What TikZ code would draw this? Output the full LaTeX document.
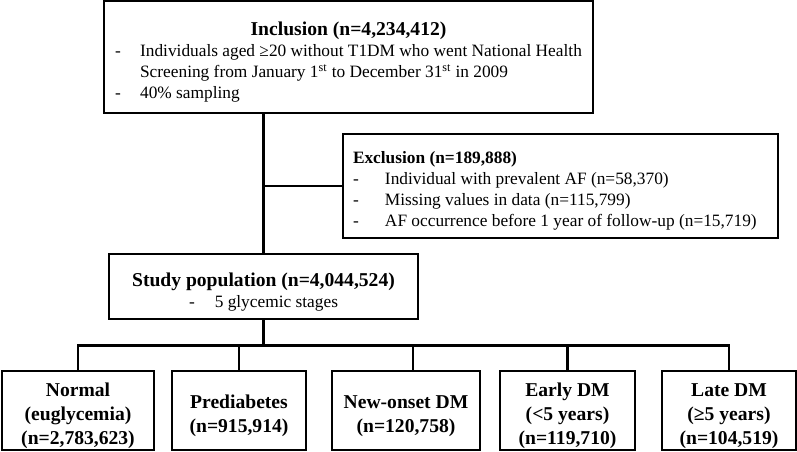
\documentclass[tikz,border=0pt]{standalone}
\usepackage{fontspec}
\setmainfont{Liberation Serif}
\usepackage{array}
\newcommand{\bigtxt}{\fontsize{14.7}{18}\selectfont\bfseries}
\newcommand{\smalltxt}{\fontsize{13}{15.75}\selectfont}
\newcommand{\topgap}[1]{\rule{0pt}{#1}}

\begin{document}
\begin{tikzpicture}[x=0.75pt, y=-0.75pt,
    box/.style={draw, rectangle, line width=1pt, inner sep=0pt, font=\smalltxt},
    stage/.style={box, minimum width=#1, minimum height=59.25pt, align=center, font=\bigtxt},
    link/.style={line width=2.2pt}]
    \useasboundingbox (0,0) rectangle (797,451);
    % Nodes
    \node [box, minimum width=366.75pt, minimum height=84pt] (incl) at (348.5,57) {%
      \begin{tabular}{@{}p{18.75pt}@{}l@{}}
        \multicolumn{2}{@{}c@{}}{\topgap{20pt}\bigtxt Inclusion (n=4,234,412)}\\
        - & Individuals aged ≥20 without T1DM who went National Health\\
          & Screening from January 1\textsuperscript{st} to December 31\textsuperscript{st} in 2009\\
        - & 40\% sampling
      \end{tabular}};
    \node [box, minimum width=326.25pt, minimum height=78pt] (excl) at (560.5,186) {%
      \begin{tabular}{@{}p{24pt}@{}p{287.25pt}@{}}
        \multicolumn{2}{@{}l@{}}{\topgap{18pt}\bfseries Exclusion (n=189,888)}\\
        - & Individual with prevalent AF (n=58,370)\\
        - & Missing values in data (n=115,799)\\
        - & AF occurrence before 1 year of follow-up (n=15,719)
      \end{tabular}};
    \node [box, minimum width=231.75pt, minimum height=48.75pt, align=center] (study) at (263.5,286.5)
      {{\topgap{18pt}\bigtxt Study population (n=4,044,524)}\\ -\hspace{15pt}5 glycemic stages};

    \node [stage=114pt] (b1) at (78,410.5) {\topgap{17.5pt}Normal\\(euglycemia)\\(n=2,783,623)};
    \node [stage=100.5pt] (b2) at (239,410.5) {\topgap{17.5pt}Prediabetes\\(n=915,914)};
    \node [stage=111pt] (b3) at (406,410.5) {\topgap{17.5pt}New-onset DM\\(n=120,758)};
    \node [stage=101.25pt] (b4) at (567.5,410.5) {\topgap{17.5pt}Early DM\\(\textless5 years)\\(n=119,710)};
    \node [stage=100.5pt] (b5) at (729,410.5) {\topgap{17.5pt}Late DM\\(≥5 years)\\(n=104,519)};

    % Lines
    \draw [link] (study.north |- incl.south) -- (study.north);
    \draw [link] (excl.west -| study.north) -- (excl.west);
    \path (study.south) ++(0,26) coordinate (bus);
    \coordinate (d3) at ([xshift=5.25pt]b3.north);
    \draw [link] (study.south) -- (bus);
    \draw [link] (b1.north) |- (bus) -| (b5.north);
    \draw [link] (b2.north) -- (b2.north |- bus);
    \draw [link] (d3) -- (d3 |- bus);
    \draw [link] (b4.north) -- (b4.north |- bus);
\end{tikzpicture}
\end{document}
